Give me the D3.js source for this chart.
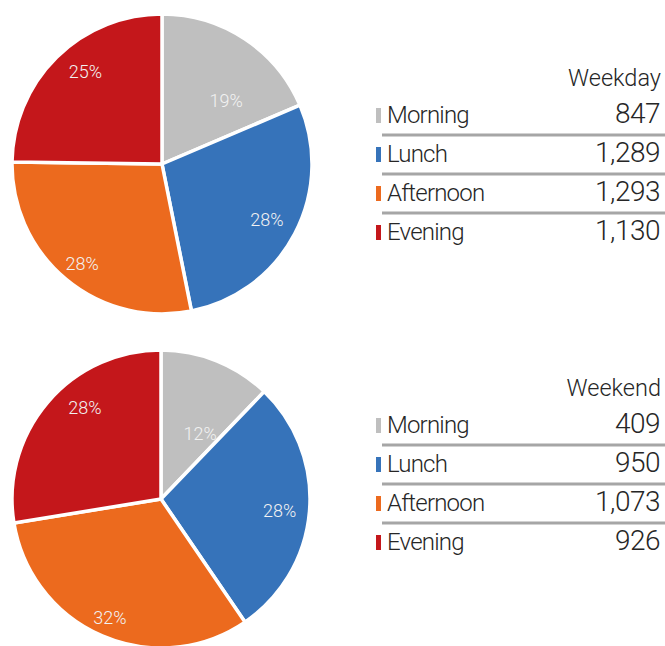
<!DOCTYPE html>
<html>
<head>
<meta charset="utf-8">
<script src="https://cdn.jsdelivr.net/npm/d3@7"></script>
<style>
  html, body { margin: 0; padding: 0; background: #fff; }
  svg { display: block; }
  text { font-family: Roboto, Lato, sans-serif; font-weight: 300; }
</style>
</head>
<body>
<svg id="chart" width="665" height="646"></svg>
<script>
// Visit counts by time of day
const categories = ["Morning", "Lunch", "Afternoon", "Evening"];
const weekdayValues = [847, 1289, 1293, 1130];
const weekendValues = [409, 950, 1073, 926];
const groupTitles = ["Weekday", "Weekend"];
const colors = ["#bfbfbf", "#3673ba", "#ec6a1e", "#c4171b"];

// label placement tweaks: [radius fraction, angular shift in degrees]
const weekdayLabelPos = [[0.6, 12], [0.79, 0], [0.85, -1], [0.8, 5]];
const weekendLabelPos = [[0.51, 9], [0.8, 1], [0.87, 0], [0.8, 10]];

const svg = d3.select("#chart");
const fmt = d3.format(",");
const pct = d3.format(".0%");

const panels = [
  { title: groupTitles[0], values: weekdayValues, labelPos: weekdayLabelPos, cx: 162, cy: 164, r: 150, top: 0 },
  { title: groupTitles[1], values: weekendValues, labelPos: weekendLabelPos, cx: 161, cy: 499, r: 149, top: 310 }
];

const pie = d3.pie().sort(null).value(d => d.value);

panels.forEach(p => {
  const data = categories.map((c, i) => ({ name: c, value: p.values[i], color: colors[i] }));
  const total = d3.sum(p.values);
  const arcs = pie(data);
  const arc = d3.arc().innerRadius(0).outerRadius(p.r);

  const g = svg.append("g").attr("transform", `translate(${p.cx},${p.cy})`);
  g.selectAll("path.slice")
    .data(arcs)
    .join("path")
    .attr("class", "slice")
    .attr("d", arc)
    .attr("fill", d => d.data.color)
    .attr("stroke", "#fff")
    .attr("stroke-width", 3.5)
    .attr("stroke-linejoin", "round");

  g.selectAll("text.pct")
    .data(arcs)
    .join("text")
    .attr("class", "pct")
    .attr("transform", (d, i) => {
      const [rf, shift] = p.labelPos[i];
      const a = (d.startAngle + d.endAngle) / 2 + shift * Math.PI / 180;
      const rr = p.r * rf;
      return `translate(${Math.sin(a) * rr},${-Math.cos(a) * rr})`;
    })
    .attr("text-anchor", "middle")
    .attr("dy", "0.35em")
    .attr("fill", "#f2f2f2")
    .attr("font-size", 18)
    .text(d => pct(d.data.value / total));

  // table legend
  const lg = svg.append("g").attr("transform", `translate(0,${p.top})`);
  lg.append("text")
    .attr("x", 661).attr("y", 86)
    .attr("text-anchor", "end")
    .attr("font-size", 23.5)
    .attr("fill", "#262626")
    .text(p.title);

  const rowY = d3.scalePoint().domain(categories).range([123, 240]);

  data.forEach((d, i) => {
    const y = rowY(d.name);
    lg.append("rect")
      .attr("x", 376).attr("y", y - 15)
      .attr("width", 5).attr("height", 15)
      .attr("fill", d.color);
    lg.append("text")
      .attr("x", 387).attr("y", y)
      .attr("font-size", 24)
      .attr("letter-spacing", -0.8)
      .attr("fill", "#262626")
      .text(d.name);
    lg.append("text")
      .attr("x", 660).attr("y", y)
      .attr("text-anchor", "end")
      .attr("font-size", 28)
      .attr("letter-spacing", -0.5)
      .attr("fill", "#262626")
      .text(fmt(d.value));
    if (i > 0) {
      lg.append("line")
        .attr("x1", 382).attr("x2", 665)
        .attr("y1", y - 27).attr("y2", y - 27)
        .attr("stroke", "#a6a6a6")
        .attr("stroke-width", 3);
    }
  });
});
</script>
</body>
</html>
